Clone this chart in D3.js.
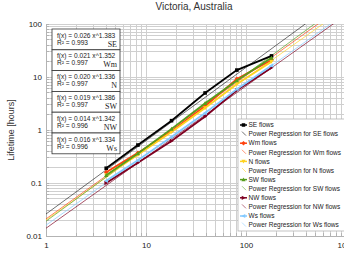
<!DOCTYPE html>
<html>
<head>
<meta charset="utf-8">
<script src="https://cdn.jsdelivr.net/npm/d3@7"></script>
<style>
  body { margin: 0; background: #fff; }
  svg { display: block; font-family: "Liberation Sans", Arial, sans-serif; }
</style>
</head>
<body>
<svg id="chart" width="344" height="260"></svg>
<script>
// flow durations (x) and lifetimes (y)
const durations = [4, 8.3, 18, 39, 81, 180];
const seriesNames = ["SE", "Wm", "N", "SW", "NW", "Ws"];
const seSeries = [0.19, 0.52, 1.5, 5.0, 13.5, 25];
const wmSeries = [0.16, 0.37, 0.96, 2.8, 9.2, 21];
const nSeries = [0.14, 0.34, 0.92, 2.6, 7.4, 19.5];
const swSeries = [0.14, 0.36, 1.05, 3.2, 8.6, 23];
const nwSeries = [0.10, 0.24, 0.62, 1.8, 5.6, 15];
const wsSeries = [0.11, 0.27, 0.74, 2.1, 5.9, 16.5];
// power regression f(x) = a * x^b
const fitA = [0.026, 0.021, 0.020, 0.019, 0.014, 0.016];
const fitB = [1.383, 1.352, 1.336, 1.386, 1.342, 1.334];
const fitR2 = ["0.993", "0.997", "0.997", "0.997", "0.996", "0.996"];
const xTicks = [1, 10, 100, 1000];
const yTicks = [0.01, 0.1, 1, 10, 100];

const colors = ["#000000", "#ff420e", "#ffd320", "#579d1c", "#7e0021", "#83caff"];
const symbols = ["square", "diamond", "down", "up", "right", "left"];
const values = [seSeries, wmSeries, nSeries, swSeries, nwSeries, wsSeries];

const margin = { top: 24, right: -2, bottom: 24, left: 46 };
const width = 344, height = 260;
const svg = d3.select("#chart");

const x = d3.scaleLog().domain([1, 1000]).range([margin.left, width - margin.right]);
const y = d3.scaleLog().domain([0.01, 100]).range([height - margin.bottom, margin.top]);

svg.append("text")
  .attr("x", 194).attr("y", 10)
  .attr("text-anchor", "middle")
  .style("font-size", "10px").style("fill", "#333")
  .text("Victoria, Australia");

// grid
const minorX = [], minorY = [];
for (let d = 1; d < 1000; d *= 10) for (let k = 1; k <= 10; k++) minorX.push(d * k);
for (let d = 0.01; d < 100; d *= 10) for (let k = 1; k <= 10; k++) minorY.push(+(d * k).toPrecision(3));

const grid = svg.append("g");
grid.selectAll(".gx").data(minorX).join("line")
  .attr("x1", d => x(d)).attr("x2", d => x(d))
  .attr("y1", y(100)).attr("y2", y(0.01))
  .attr("stroke", "#cfcfcf").attr("stroke-width", 1).attr("shape-rendering", "crispEdges");
grid.selectAll(".gy").data(minorY).join("line")
  .attr("x1", x(1)).attr("x2", x(1000))
  .attr("y1", d => y(d)).attr("y2", d => y(d))
  .attr("stroke", "#cfcfcf").attr("stroke-width", 1).attr("shape-rendering", "crispEdges");

// axes
const xAxis = svg.append("g")
  .attr("transform", `translate(0,${y(0.01)})`)
  .call(d3.axisBottom(x).tickValues(xTicks).tickFormat(d3.format("d")).tickSize(0).tickPadding(6));
const yAxis = svg.append("g")
  .attr("transform", `translate(${x(1)},0)`)
  .call(d3.axisLeft(y).tickValues(yTicks).tickFormat(d => String(d)).tickSize(0).tickPadding(4));
[xAxis, yAxis].forEach(a => {
  a.select(".domain").attr("stroke", "#b3b3b3");
  a.selectAll("text").style("font-size", "8px").style("fill", "#222").style("font-family", "Liberation Sans, Arial, sans-serif");
});
// small inner ticks
svg.append("g").selectAll("line").data(minorX).join("line")
  .attr("x1", d => x(d)).attr("x2", d => x(d))
  .attr("y1", y(0.01)).attr("y2", y(0.01) - 3)
  .attr("stroke", "#b3b3b3").attr("shape-rendering", "crispEdges");
svg.append("g").selectAll("line").data(minorY).join("line")
  .attr("x1", x(1)).attr("x2", x(1) + 3)
  .attr("y1", d => y(d)).attr("y2", d => y(d))
  .attr("stroke", "#b3b3b3").attr("shape-rendering", "crispEdges");

svg.append("text")
  .attr("transform", `translate(14,${(y(100) + y(0.01)) / 2}) rotate(-90)`)
  .attr("text-anchor", "middle")
  .style("font-size", "9px").style("fill", "#333")
  .text("Lifetime [hours]");

svg.append("clipPath").attr("id", "plot")
  .append("rect").attr("x", x(1)).attr("y", y(100))
  .attr("width", x(1000) - x(1)).attr("height", y(0.01) - y(100));

// regression lines
const fitX = d3.range(0, 3.01, 0.05).map(e => Math.pow(10, e));
const line = d3.line().x(d => x(d[0])).y(d => y(d[1]));
svg.append("g").attr("clip-path", "url(#plot)")
  .selectAll("path").data(seriesNames).join("path")
  .attr("d", (d, i) => line(fitX.map(v => [v, fitA[i] * Math.pow(v, fitB[i])])))
  .attr("fill", "none")
  .attr("stroke", (d, i) => colors[i])
  .attr("stroke-opacity", (d, i) => i === 0 ? 0.7 : 0.85)
  .attr("stroke-width", 0.8);

function symbolPath(kind, size) {
  const s = size / 2;
  if (kind === "square") return `M${-s},${-s}H${s}V${s}H${-s}Z`;
  if (kind === "diamond") return `M0,${-s * 1.3}L${s * 1.3},0L0,${s * 1.3}L${-s * 1.3},0Z`;
  if (kind === "up") return `M0,${-s * 1.2}L${s * 1.2},${s}L${-s * 1.2},${s}Z`;
  if (kind === "down") return `M0,${s * 1.2}L${s * 1.2},${-s}L${-s * 1.2},${-s}Z`;
  if (kind === "right") return `M${s * 1.2},0L${-s},${s * 1.2}L${-s},${-s * 1.2}Z`;
  return `M${-s * 1.2},0L${s},${s * 1.2}L${s},${-s * 1.2}Z`;
}

// data lines
const dataG = svg.append("g");
seriesNames.forEach((name, i) => {
  const pts = durations.map((d, j) => [d, values[i][j]]);
  dataG.append("path")
    .attr("d", line(pts))
    .attr("fill", "none")
    .attr("stroke", colors[i])
    .attr("stroke-width", 1.8);
  dataG.selectAll(null).data(pts).join("path")
    .attr("transform", d => `translate(${x(d[0])},${y(d[1])})`)
    .attr("d", symbolPath(symbols[i], 3.6))
    .attr("fill", colors[i]);
});

// equation boxes
const boxTop = 29, boxStep = 20.8;
const boxes = svg.append("g");
seriesNames.forEach((name, i) => {
  const g = boxes.append("g").attr("transform", `translate(52,${boxTop + i * boxStep})`);
  g.append("rect").attr("width", 68).attr("height", 20.8)
    .attr("fill", "#fff").attr("stroke", "#333").attr("stroke-width", 0.8);
  g.append("text").attr("x", 5).attr("y", 8.5)
    .style("font-size", "6.6px").style("fill", "#222")
    .text(`f(x) = ${fitA[i].toFixed(3)} x^${fitB[i].toFixed(3)}`);
  g.append("text").attr("x", 5).attr("y", 15.5)
    .style("font-size", "6.6px").style("fill", "#222")
    .text(`R² = ${fitR2[i]}`);
  g.append("text").attr("x", 65).attr("y", 17.5)
    .attr("text-anchor", "end")
    .style("font-family", "Liberation Serif, Times New Roman, serif")
    .style("font-size", "8px").style("fill", "#222")
    .text(name);
});

// legend
const legend = svg.append("g");
legend.append("rect").attr("x", 238).attr("y", 119).attr("width", 112).attr("height", 112)
  .attr("fill", "#fff").attr("stroke", "#b3b3b3").attr("stroke-width", 0.8);
seriesNames.forEach((name, i) => {
  const y0 = 125 + i * 2 * 9.1;
  legend.append("line").attr("x1", 240).attr("x2", 247).attr("y1", y0).attr("y2", y0)
    .attr("stroke", colors[i]).attr("stroke-width", 1.5);
  legend.append("path").attr("transform", `translate(243.5,${y0})`)
    .attr("d", symbolPath(symbols[i], 3.5)).attr("fill", colors[i]);
  legend.append("text").attr("x", 248.5).attr("y", y0).attr("dy", "0.35em")
    .style("font-size", "6.5px").style("fill", "#222").text(`${name} flows`);
  const y1 = y0 + 9.1;
  legend.append("line").attr("x1", 242).attr("x2", 246).attr("y1", y1 - 2.5).attr("y2", y1 + 1.5)
    .attr("stroke", colors[i]).attr("stroke-opacity", 0.7).attr("stroke-width", 0.8);
  legend.append("text").attr("x", 248.5).attr("y", y1).attr("dy", "0.35em")
    .style("font-size", "6.5px").style("fill", "#222").text(`Power Regression for ${name} flows`);
});
</script>
</body>
</html>
